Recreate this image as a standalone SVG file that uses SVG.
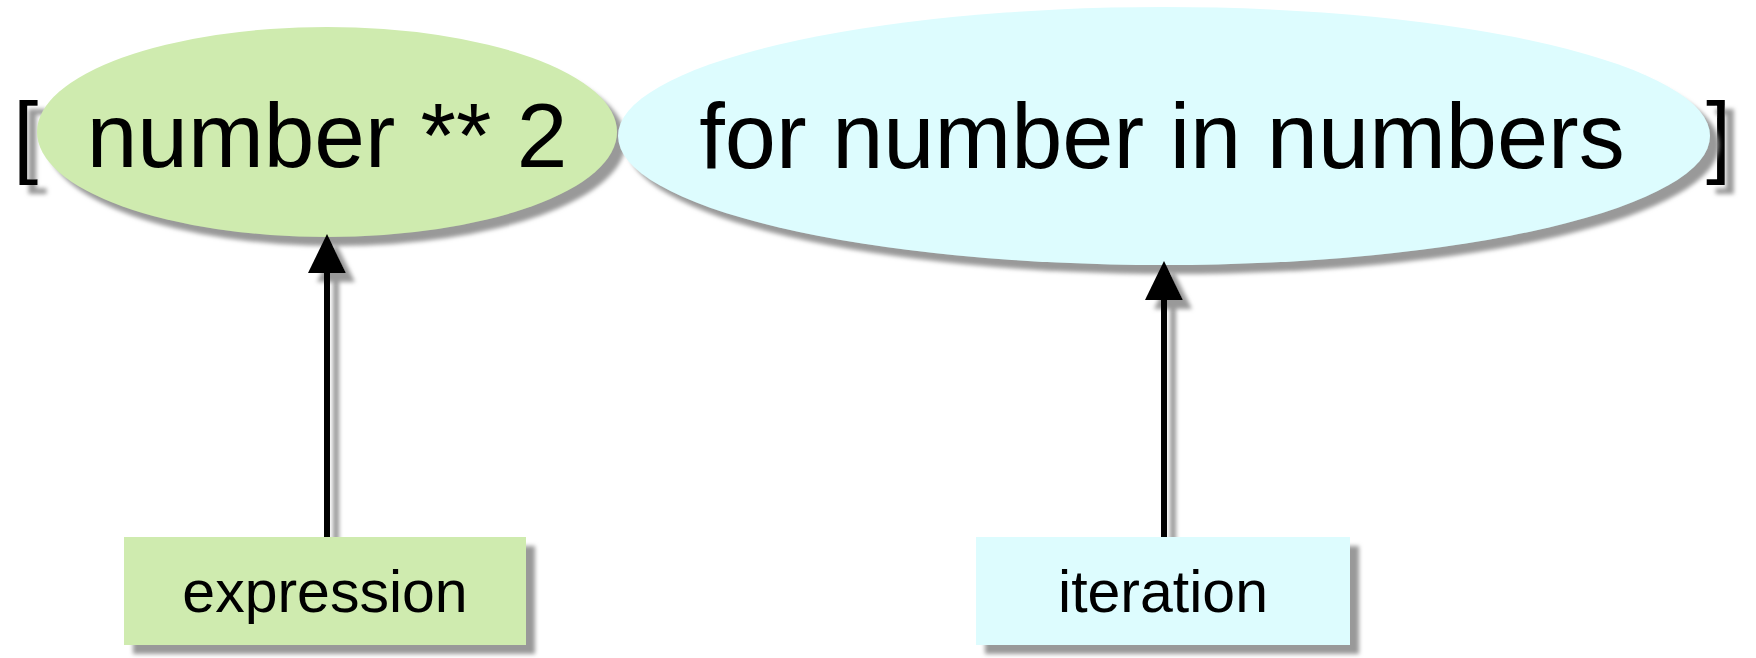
<svg xmlns="http://www.w3.org/2000/svg" width="1756" height="658" viewBox="0 0 1756 658">
  <defs>
    <filter id="shadow" filterUnits="userSpaceOnUse" x="0" y="0" width="1756" height="658">
      <feGaussianBlur in="SourceAlpha" stdDeviation="2"/>
      <feOffset dx="9" dy="9" result="b"/>
      <feFlood flood-color="#999999" flood-opacity="1"/>
      <feComposite in2="b" operator="in" result="s"/>
      <feMerge>
        <feMergeNode in="s"/>
        <feMergeNode in="SourceGraphic"/>
      </feMerge>
    </filter>
    <marker id="arrow" markerUnits="userSpaceOnUse" viewBox="0 0 39 38" markerWidth="39" markerHeight="38" refX="1" refY="19" orient="auto">
      <path d="M0,0 L39,19 L0,38 Z" fill="#000"/>
    </marker>
  </defs>
  <style>
    text { font-family: "Liberation Sans", Arial, sans-serif; fill: #000; }
    .big { font-size: 91px; }
    .small { font-size: 59px; text-anchor: middle; }
    .mid { text-anchor: middle; }
    .green { fill: #CFEBAF; }
    .blue { fill: #DDFCFE; }
    .conn { stroke: #000; stroke-width: 6; fill: none; }
  </style>
  <rect width="1756" height="658" fill="#fff"/>

  <g id="bracket-open" filter="url(#shadow)">
    <text class="big" x="13" y="166">[</text>
  </g>
  <g id="bracket-close" filter="url(#shadow)">
    <text class="big" x="1706" y="166">]</text>
  </g>

  <g id="node-expression-ellipse">
    <ellipse class="green" cx="327" cy="132" rx="290" ry="105" filter="url(#shadow)"/>
    <text class="big mid" x="327" y="167">number ** 2</text>
  </g>

  <g id="node-iteration-ellipse">
    <ellipse class="blue" cx="1164" cy="136" rx="546" ry="129" filter="url(#shadow)"/>
    <text class="big mid" x="1162" y="168" style="font-size:92px">for number in numbers</text>
  </g>

  <g id="connectors" filter="url(#shadow)">
    <line class="conn" x1="327" y1="537" x2="327" y2="272" marker-end="url(#arrow)"/>
    <line class="conn" x1="1164" y1="537" x2="1164" y2="299" marker-end="url(#arrow)"/>
  </g>

  <g id="node-expression-box">
    <rect class="green" x="124" y="537" width="402" height="108" filter="url(#shadow)"/>
    <text class="small" x="325" y="612">expression</text>
  </g>

  <g id="node-iteration-box">
    <rect class="blue" x="976" y="537" width="374" height="108" filter="url(#shadow)"/>
    <text class="small" x="1163" y="612">iteration</text>
  </g>
</svg>
